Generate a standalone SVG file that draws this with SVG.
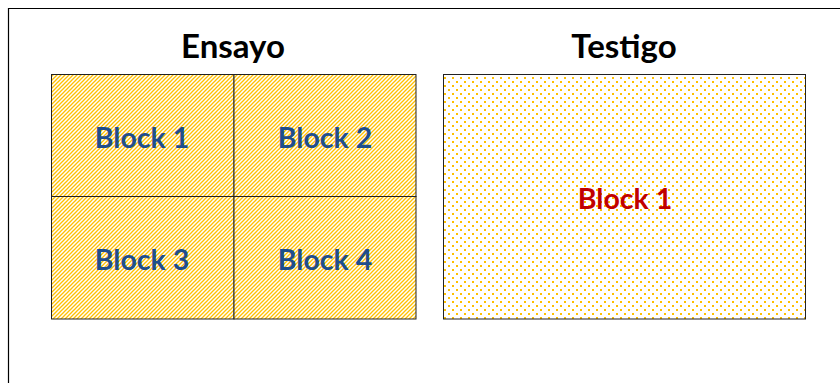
<svg xmlns="http://www.w3.org/2000/svg" width="840" height="383" viewBox="0 0 840 383">
  <defs>
    <!-- upward diagonal hatch, gold on white -->
    <pattern id="hatch" width="4" height="4" patternUnits="userSpaceOnUse">
      <rect width="4" height="4" fill="#ffffff"/>
      <path d="M-1,1 L1,-1 M0,4 L4,0 M3,5 L5,3" stroke="#ffc000" stroke-width="1.3" fill="none"/>
    </pattern>
    <!-- staggered dot grid, gold on white -->
    <pattern id="dots" width="8" height="8" patternUnits="userSpaceOnUse">
      <rect width="8" height="8" fill="#ffffff"/>
      <rect x="0" y="1" width="2" height="2" fill="#ffc000"/>
      <rect x="4" y="5" width="2" height="2" fill="#ffc000"/>
    </pattern>
    <style>
      .title { font-family: Lato, "Liberation Sans", sans-serif; font-weight: bold; font-size: 33px; fill: #000000; text-anchor: middle; }
      .lbl { font-family: Lato, "Liberation Sans", sans-serif; font-weight: bold; font-size: 28.5px; text-anchor: middle; }
      .blue { fill: #1f4e8c; }
      .red { fill: #c00000; }
      .cell { stroke: #222222; stroke-width: 1; }
    </style>
  </defs>

  <rect width="840" height="383" fill="#ffffff"/>
  <!-- outer frame -->
  <path d="M8.5,383 V8.5 H840" fill="none" stroke="#000000" stroke-width="1.2"/>

  <text class="title" x="233" y="58">Ensayo</text>
  <text class="title" x="624" y="58">Testigo</text>

  <g id="ensayo-block1">
    <rect class="cell" x="51.5" y="74.5" width="182.5" height="122" fill="url(#hatch)"/>
    <text class="lbl blue" x="142" y="148">Block 1</text>
  </g>
  <g id="ensayo-block2">
    <rect class="cell" x="234" y="74.5" width="182" height="122" fill="url(#hatch)"/>
    <text class="lbl blue" x="325" y="148">Block 2</text>
  </g>
  <g id="ensayo-block3">
    <rect class="cell" x="51.5" y="196.5" width="182.5" height="122.5" fill="url(#hatch)"/>
    <text class="lbl blue" x="142" y="270">Block 3</text>
  </g>
  <g id="ensayo-block4">
    <rect class="cell" x="234" y="196.5" width="182" height="122.5" fill="url(#hatch)"/>
    <text class="lbl blue" x="325" y="270">Block 4</text>
  </g>

  <g id="testigo-block1">
    <rect class="cell" x="443.5" y="74.5" width="362" height="244.5" fill="url(#dots)"/>
    <text class="lbl red" x="625" y="209">Block 1</text>
  </g>
</svg>
